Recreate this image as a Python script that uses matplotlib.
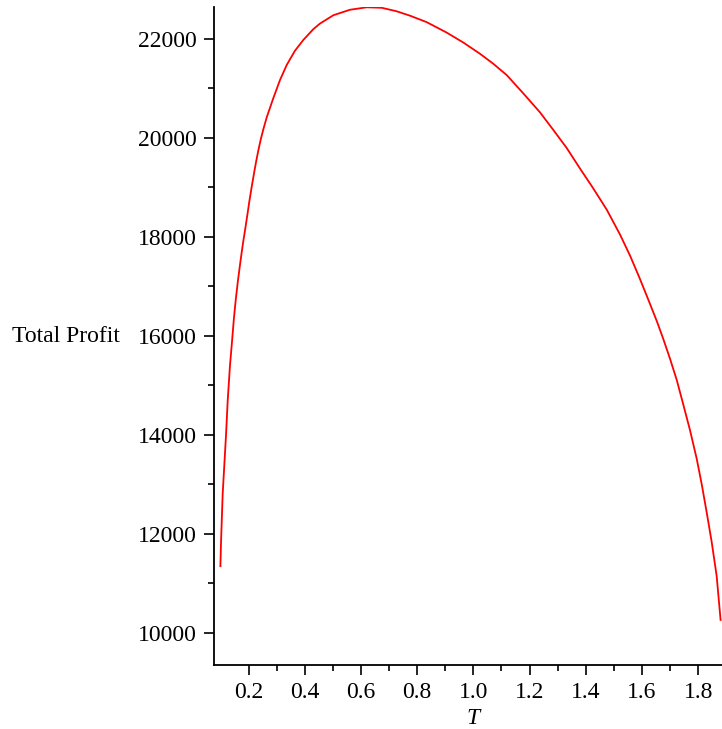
import numpy as np
import matplotlib
matplotlib.use("Agg")
import matplotlib.pyplot as plt
from matplotlib.ticker import MultipleLocator, FixedLocator, FormatStrFormatter

# Valori: T (periodo) e profitto totale
T = [0.100, 0.102, 0.108, 0.115, 0.120, 0.126, 0.134, 0.140, 0.148, 0.154,
     0.162, 0.170, 0.176, 0.181, 0.188, 0.196, 0.203, 0.211, 0.220, 0.227,
     0.235, 0.244, 0.253, 0.265, 0.288, 0.312, 0.336, 0.365, 0.395, 0.431,
     0.454, 0.502, 0.561, 0.621, 0.674, 0.727, 0.775, 0.834, 0.905, 0.964,
     1.024, 1.071, 1.119, 1.178, 1.237, 1.285, 1.332, 1.380, 1.427, 1.475,
     1.522, 1.558, 1.591, 1.623, 1.653, 1.676, 1.700, 1.724, 1.747, 1.771,
     1.795, 1.813, 1.831, 1.848, 1.866, 1.880]
profit = [11350, 11800, 12800, 13500, 14000, 14700, 15400, 15800, 16350, 16700,
          17100, 17450, 17700, 17900, 18150, 18450, 18720, 19000, 19300, 19520,
          19750, 19980, 20180, 20420, 20800, 21170, 21475, 21760, 21980, 22200,
          22310, 22480, 22590, 22640, 22630, 22560, 22470, 22340, 22130, 21930,
          21700, 21500, 21270, 20900, 20520, 20160, 19800, 19380, 18980, 18550,
          18050, 17620, 17180, 16730, 16300, 15940, 15540, 15110, 14620, 14100,
          13520, 13000, 12420, 11850, 11150, 10263]

# Tacche secondarie dell'asse x (nessuna a 0.1)
x_minor = [0.3, 0.5, 0.7, 0.9, 1.1, 1.3, 1.5, 1.7]

plt.rcParams['font.family'] = ['Liberation Serif', 'DejaVu Serif']

fig = plt.figure(figsize=(7.22, 7.29), dpi=100)
ax = fig.add_axes([214 / 722, 1 - 665 / 729, 508 / 722, 658 / 729])

ax.plot(T, profit, color='red', linewidth=1.3)

ax.set_xlim(0.0772, 1.885)
ax.set_ylim(9353, 22646)

ax.xaxis.set_major_locator(MultipleLocator(0.2))
ax.xaxis.set_minor_locator(FixedLocator(x_minor))
ax.yaxis.set_major_locator(MultipleLocator(2000))
ax.yaxis.set_minor_locator(MultipleLocator(1000))
ax.xaxis.set_major_formatter(FormatStrFormatter('%.1f'))

for side in ['top', 'right']:
    ax.spines[side].set_visible(False)
for side in ['left', 'bottom']:
    ax.spines[side].set_linewidth(1.3)

ax.tick_params(which='major', direction='out', length=7.2, width=1.2,
               labelsize=17, pad=5)
ax.tick_params(which='minor', direction='out', length=4.3, width=1.2)

ax.set_xlabel('T', fontsize=17, fontstyle='italic')
ax.xaxis.set_label_coords(0.51, -0.066)
ax.set_ylabel('Total Profit', fontsize=17, rotation=0, ha='left', va='center')
ax.yaxis.set_label_coords(-0.3976, 0.5)

fig.savefig('out.png', dpi=100)
